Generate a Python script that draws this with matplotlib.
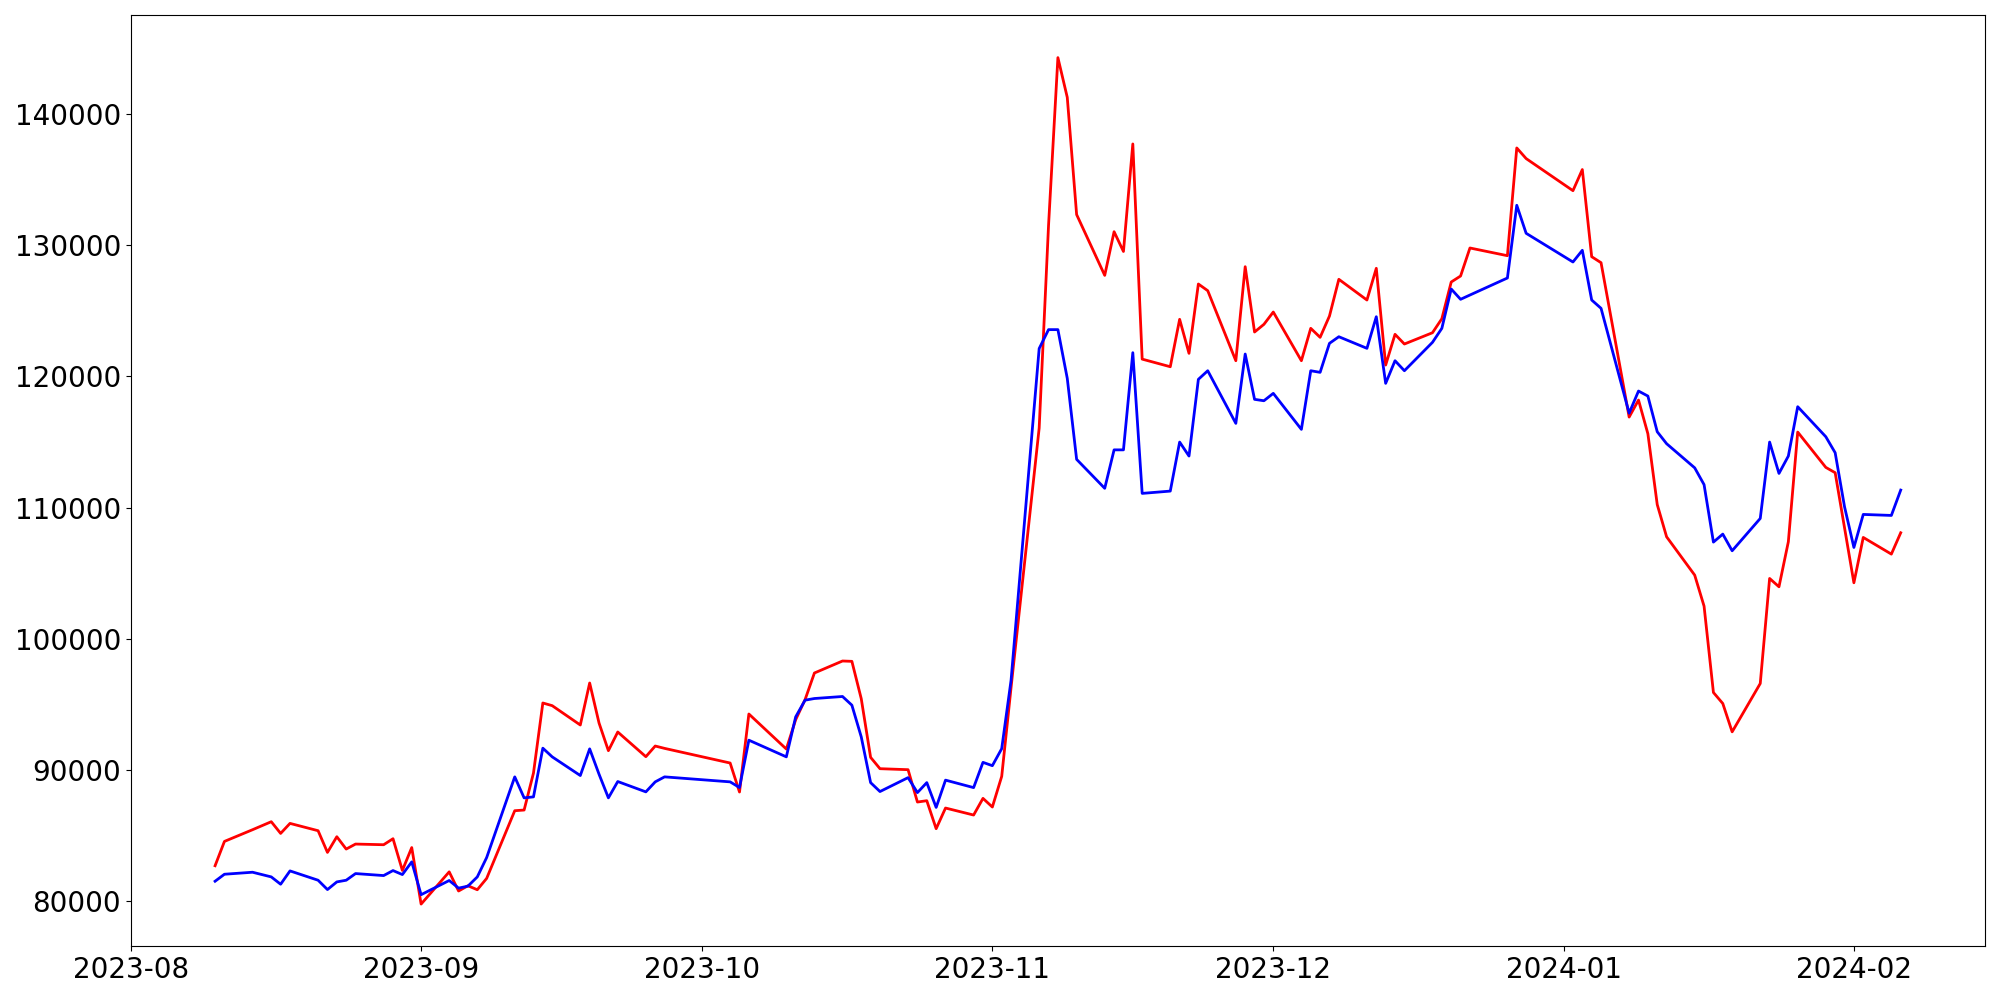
import matplotlib
matplotlib.use("Agg")
import matplotlib.pyplot as plt
import pandas as pd

# Trading days (KRX calendar) from 2023-08-10 to 2024-02-06
start_date = "2023-08-10"
end_date = "2024-02-06"
market_holidays = ["2023-08-15", "2023-09-28", "2023-09-29", "2023-10-02",
                   "2023-10-03", "2023-10-09", "2023-12-25", "2023-12-29",
                   "2024-01-01"]
dates = pd.bdate_range(start_date, end_date, freq="C", holidays=market_holidays)

red_values = [
    82706, 84560, 85451, 86061, 85170, 85933, 85375, 83722, 84917, 83977,
    84358, 84307, 84765, 82350, 84090,
    79784, 82240, 80780, 81180, 80877, 81741, 86900, 86951, 89772, 95109,
    94905, 93431, 96633, 93584, 91474, 92898, 91017, 91830, 91650,
    90534, 88324, 94270, 91600, 93838, 95362, 97395, 98309, 98283, 95439,
    90966, 90102, 90026, 87560, 87662, 85527, 87104, 86570, 87840,
    87180, 89517, 96300, 116062, 131500, 144293, 141266, 132331, 127700,
    131025, 129520, 137714, 121315, 120735, 124349, 121756, 127040, 126531,
    121194, 128359, 123381, 123967,
    124905, 121194, 123662, 122976, 124600, 127398, 125820, 128237, 120865,
    123205, 122466, 123327, 124395, 127192, 127650, 129785, 129198, 137409,
    136600,
    134153, 135762, 129121, 128664, 116900, 118196, 115630, 110230, 107774,
    104854, 102491, 95909, 95070, 92910, 96594, 104600, 103965, 107395,
    115757, 113065, 112658, 108463,
    104270, 107726, 106455, 108082,
]

blue_values = [
    81525, 82058, 82211, 81855, 81296, 82312, 81601, 80890, 81474, 81601,
    82109, 81957, 82338, 82033, 83000,
    80500, 81580, 81000, 81150, 81855, 83329, 89479, 87878, 87954, 91665,
    91004, 89580, 91614, 89682, 87878, 89123, 88336, 89098, 89479,
    89098, 88666, 92275, 91004, 94053, 95324, 95450, 95604, 94943, 92529,
    89040, 88360, 89420, 88280, 89040, 87150, 89230, 88660, 90585,
    90331, 91627, 96849, 122122, 123563, 123563, 119851, 113676, 111470,
    114400, 114400, 121806, 111083, 111258, 114994, 113927, 119774, 120430,
    116420, 121703, 118250, 118143,
    118707, 115962, 120430, 120308, 122519, 123022, 122138, 124547, 119469,
    121194, 120430, 122595, 123662, 126659, 125874, 126201, 127498, 133040,
    130905,
    128717, 129609, 125820, 125187, 117200, 118882, 118501, 115780, 114870,
    113030, 111750, 107370, 107980, 106710, 109174, 114994, 112604, 113927,
    117688, 115401, 114181, 110064,
    106963, 109479, 109403, 111335,
]

fig = plt.figure(figsize=(20, 10), dpi=100)
ax = fig.add_axes([0.0654, 0.0536, 0.9271, 0.9311])
ax.plot(dates, red_values, color="red", linewidth=2)
ax.plot(dates, blue_values, color="blue", linewidth=2)
ax.tick_params(axis="both", labelsize=20)

fig.savefig("out.png", dpi=100)
